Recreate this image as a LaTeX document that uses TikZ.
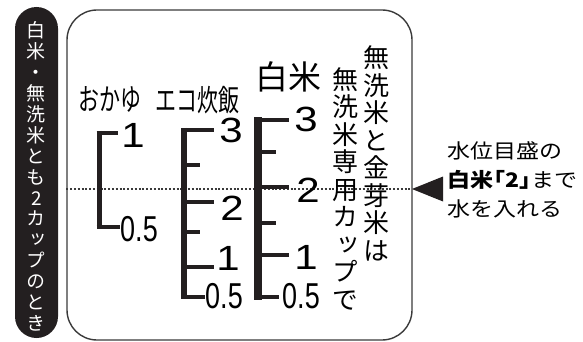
\documentclass[tikz,border=0pt]{standalone}
\usepackage{fontspec}
\setmainfont{Noto Sans CJK JP}
\newfontfamily\jpnarrow[FakeStretch=0.7]{Noto Sans CJK JP}
\newfontfamily\jpwide[FakeStretch=1.15]{Noto Sans CJK JP}
\newfontfamily\jpvert[RawFeature=+vert]{Noto Sans CJK JP}
\newfontfamily\numwide[FakeStretch=1.2]{Liberation Sans}
\newfontfamily\numnarrow[FakeStretch=0.75]{Liberation Sans}
\usepackage{tikz}
\usetikzlibrary{positioning}
\definecolor{ink}{HTML}{231F20}
\definecolor{frame}{HTML}{3A3A3A}

\begin{document}
\begin{tikzpicture}[x=1pt,y=-1pt,
	num/.style={inner sep=0pt,font=\numwide\fontsize{35}{35}\selectfont},
	half/.style={inner sep=0pt,font=\numnarrow\fontsize{36}{36}\selectfont},
	head/.style={inner sep=0pt,font=\jpnarrow\fontsize{30}{30}\selectfont},
	vcol/.style={inner sep=0pt,align=center,font=\jpvert\fontsize{26}{27.5}\selectfont},
	tick/.style={line width=4.5pt,ink},
	waterline/.style={frame,line width=1.1pt,dash pattern=on 2pt off 1.8pt}]
	\useasboundingbox (0,0) rectangle (583,342);

	\node[fill=ink,rounded corners=21.5pt,minimum width=43pt,minimum height=331pt] (band) at (36.5,172.5) {};
	\node[inner sep=0pt,text=white,align=center,font=\jpvert\fontsize{19}{20.9}\selectfont] (bandtext) at (36.5,176.5)
		{白\\米\\・\\無\\洗\\米\\と\\も\\2\\カ\\ッ\\プ\\の\\と\\き};

	\node[draw=frame,line width=1.4pt,rounded corners=30pt,minimum width=345pt,minimum height=330pt] (panel) at (239.5,175) {};

	\coordinate (tip) at (412,189);
	\draw[waterline] (panel.west |- tip) -- (tip);
	\fill[ink] (tip) -- ++(31,-12.5) -- ++(0,25) -- cycle;

	\node[head] (okayu) at (110,99) {おかゆ};
	\node[head] (eco) at (197,100) {エコ炊飯};
	\node[inner sep=0pt,font=\fontsize{33}{33}\selectfont] (hakumai) at (288,77) {白米};

	% okayu
	\draw[tick,line width=5pt] (99,130.75) -- (99,229.25);
	\draw[tick] (96.5,133) -- (118,133) (96.5,227) -- (120,227);
	\node[num] (ok-1) at (133,135) {1};
	\node[half] (ok-05) at (139,229) {0.5};

	% eco
	\draw[tick,line width=6.5pt] (184,127.75) -- (184,299.25);
	\foreach \y/\e in {130/214,165/200,202/214,232/200,267/214,297/205}
		\draw[tick] (181,\y) -- (\e,\y);
	\foreach \t/\x/\y in {3/231/130,2/232/208,1/228/258}
		\node[num] (eco-\t) at (\x,\y) {\t};
	\node[half] (eco-05) at (224,296) {0.5};

	% white rice
	\draw[tick,line width=8.5pt] (258,117.5) -- (258,299.5);
	\foreach \y/\e in {120/289,152/276,187/289,223/276,255/289,297/279}
		\draw[tick] (255,\y) -- (\e,\y);
	\foreach \t/\x/\y in {3/306/119,2/308/190,1/306/257}
		\node[num] (rice-\t) at (\x,\y) {\t};
	\node[half] (rice-05) at (301,296) {0.5};

	\node[vcol] (cup) at (345,188.5) {無\\洗\\米\\専\\用\\カ\\ッ\\プ\\で};
	\node[vcol] (kinme) at (376,153.5) {無\\洗\\米\\と\\金\\芽\\米\\は};

	\node[anchor=west,inner sep=0pt,align=left,font=\jpwide\fontsize{20}{29}\selectfont] (note) at (447,180)
		{水位目盛の\\{\bfseries 白米\kern-.55em「2」\kern-.55em}まで\\水を入れる};
\end{tikzpicture}
\end{document}
